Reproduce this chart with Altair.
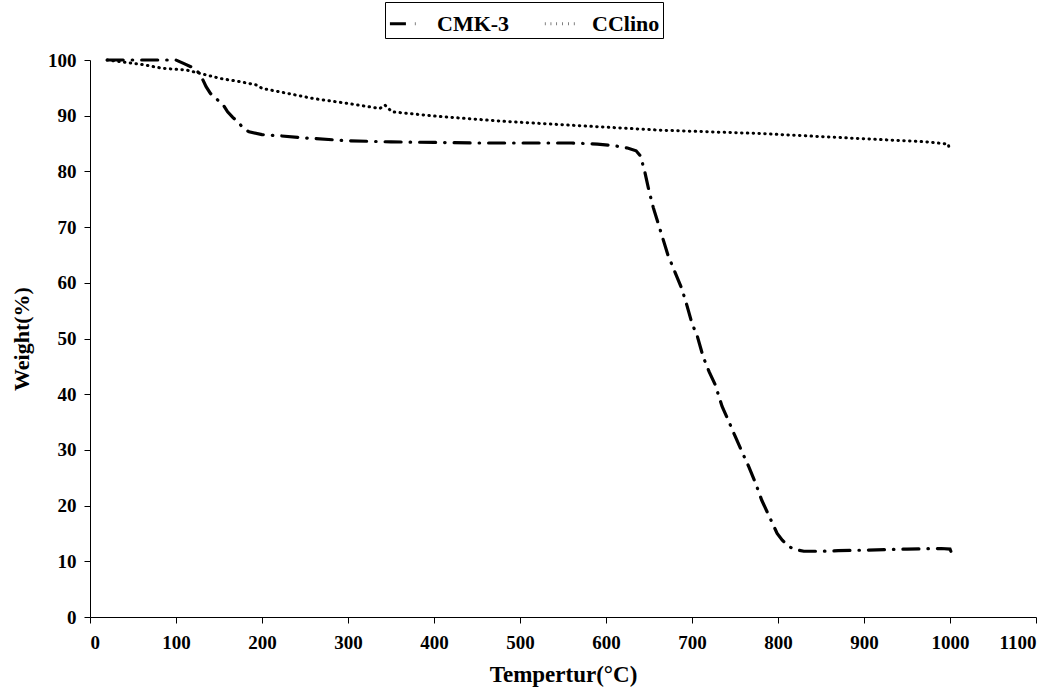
import altair as alt
import pandas as pd

# CMK-3 TGA curve (temperature °C, weight %)
cmk_T = [20, 60, 100, 110, 120, 128, 135, 140, 145, 150, 155, 160, 166, 172, 178, 185,
         200, 220, 250, 300, 350, 400, 450, 500, 560, 590, 610, 625, 635, 640, 645, 650,
         655, 660, 665, 672, 680, 688, 694, 700, 706, 713, 720, 727, 735, 742, 750, 758,
         766, 774, 781, 790, 799, 805, 812, 820, 830, 850, 870, 900, 950, 990, 1000, 1001]
cmk_W = [100, 100, 100, 99.3, 98.6, 97.5, 95.2, 94.0, 93.3, 92.6, 91.9, 90.7, 89.7, 88.9, 87.8, 87.1,
         86.6, 86.4, 86.0, 85.5, 85.3, 85.2, 85.1, 85.1, 85.1, 84.9, 84.6, 84.2, 83.7, 82.8, 80.0, 76.5,
         73.5, 71.0, 68.5, 65.0, 62.0, 59.0, 56.0, 52.7, 50.5, 46.7, 44.0, 41.7, 37.8, 35.4, 32.5, 29.7,
         27.0, 24.0, 21.0, 18.0, 15.0, 13.8, 12.7, 12.1, 11.8, 11.8, 11.9, 12.0, 12.2, 12.3, 12.2, 11.8]

# CClino TGA curve
ccl_T = [20, 40, 60, 85, 112, 128, 151, 175, 194, 200, 230, 259, 300, 337, 343, 351,
         403, 480, 558, 663, 779, 895, 973, 992, 998, 999]
ccl_W = [100, 99.6, 99.2, 98.5, 98.2, 97.6, 96.7, 96.1, 95.5, 94.9, 94.0, 93.1, 92.2, 91.3, 91.9, 90.7,
         89.9, 89.0, 88.3, 87.4, 86.8, 85.9, 85.3, 85.0, 84.9, 84.1]

series_names = ["CMK-3", "CClino"]
x_ticks = list(range(0, 1101, 100))
y_ticks = list(range(0, 101, 10))

rows = []
for i, (t, w) in enumerate(zip(cmk_T, cmk_W)):
    rows.append({"T": t, "W": w, "series": "CMK-3", "order": i})
for i, (t, w) in enumerate(zip(ccl_T, ccl_W)):
    rows.append({"T": t, "W": w, "series": "CClino", "order": i})
df = pd.DataFrame(rows)

FONT = "Liberation Serif"

chart = alt.Chart(df).mark_line(color="black", strokeCap="round").encode(
    x=alt.X("T:Q", scale=alt.Scale(domain=[0, 1100], nice=False),
            axis=alt.Axis(values=x_ticks, title="Tempertur(°C)", format="d")),
    y=alt.Y("W:Q", scale=alt.Scale(domain=[0, 100], nice=False),
            axis=alt.Axis(values=y_ticks, title="Weight(%)", format="d")),
    order="order:Q",
    strokeDash=alt.StrokeDash(
        "series:N",
        scale=alt.Scale(domain=series_names, range=[[16, 9, 0.5, 9], [0.5, 5.3]]),
        legend=alt.Legend(
            title=None, orient="none", legendX=295, legendY=-58, direction="horizontal",
            strokeColor="black", fillColor="white", padding=3, cornerRadius=0,
            labelFont=FONT, labelFontSize=22, labelFontWeight="bold", labelColor="black",
            symbolType="stroke", symbolSize=1100, symbolStrokeWidth=3, symbolStrokeColor="black",
            columnPadding=28, labelOffset=12, labelLimit=300,
        ),
    ),
    strokeWidth=alt.StrokeWidth(
        "series:N", scale=alt.Scale(domain=series_names, range=[3.2, 3.0]), legend=None
    ),
).properties(
    width=946, height=557,
    autosize=alt.AutoSizeParams(type="none"),
    padding={"left": 90, "top": 60, "right": 25, "bottom": 71},
).configure_view(stroke=None).configure_axis(
    grid=False, domainColor="black", tickColor="black", domainWidth=1, tickWidth=1,
    tickSize=6, labelFont=FONT, labelFontSize=19, labelFontWeight="bold", labelColor="black",
    titleFont=FONT, titleFontSize=22, titleFontWeight="bold", titleColor="black",
    labelPadding=8,
).configure_axisX(labelPadding=10, titlePadding=11, titleFontSize=23).configure_axisY(titlePadding=14)

chart.save("out.html", embed_options={"renderer": "svg", "actions": False})
